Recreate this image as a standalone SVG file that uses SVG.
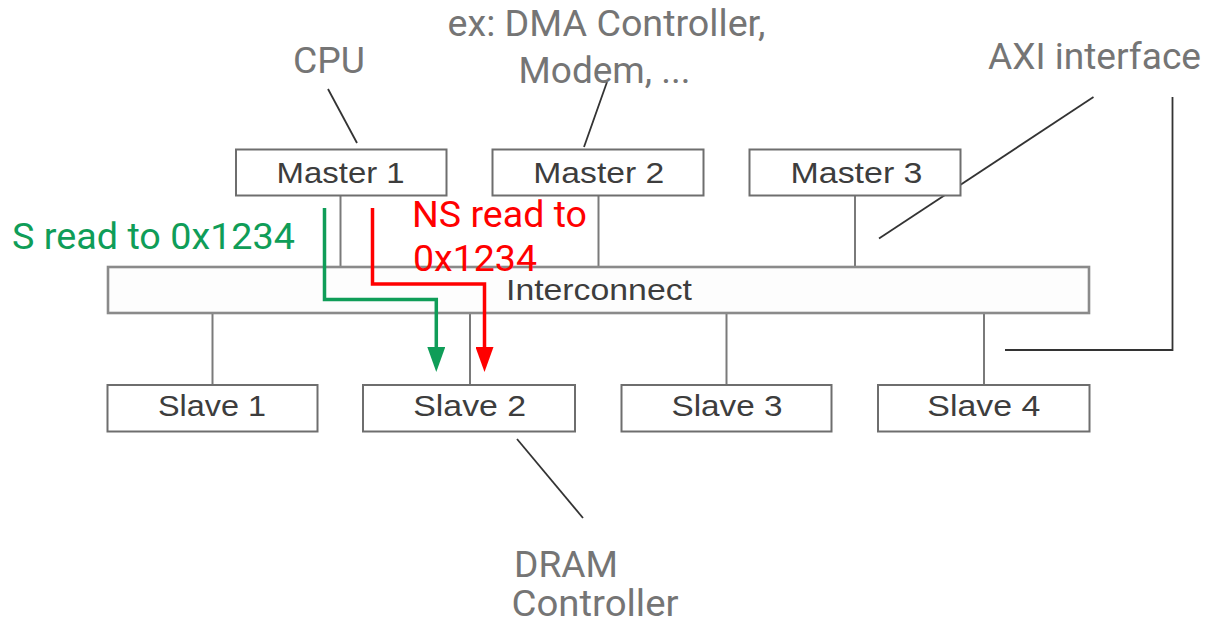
<svg xmlns="http://www.w3.org/2000/svg" width="1207" height="625" viewBox="0 0 1207 625">
<style>
.box{fill:#ffffff;stroke:#6e6e6e;stroke-width:2}
.bus{fill:#fdfdfd;stroke:#8a8a8a;stroke-width:2.6}
.conn{stroke:#7a7a7a;stroke-width:2;fill:none}
.lead{stroke:#333333;stroke-width:1.8;fill:none}
.blabel{font-family:"Liberation Sans",Arial,sans-serif;font-size:30px;fill:#3d3d3d;text-anchor:middle}
.note{font-family:Roboto,"Liberation Sans",sans-serif;font-size:36px;fill:#757575}
.green{font-family:Roboto,"Liberation Sans",sans-serif;font-size:36px;fill:#0f9d58}
.red{font-family:Roboto,"Liberation Sans",sans-serif;font-size:36px;fill:#ff0000}
</style>
<defs>
<marker id="ag" viewBox="0 0 25 18" refX="13" refY="9" markerWidth="25" markerHeight="18" markerUnits="userSpaceOnUse" orient="auto"><path d="M0,0 L25,9 L0,18 z" fill="#0f9d58"/></marker>
<marker id="ar" viewBox="0 0 25 18" refX="13" refY="9" markerWidth="25" markerHeight="18" markerUnits="userSpaceOnUse" orient="auto"><path d="M0,0 L25,9 L0,18 z" fill="#ff0000"/></marker>
</defs>
<rect width="1207" height="625" fill="#ffffff"/>
<g id="connectors">
<line class="conn" x1="340.5" y1="196" x2="340.5" y2="267"/>
<line class="conn" x1="598.5" y1="196" x2="598.5" y2="267"/>
<line class="conn" x1="855" y1="196" x2="855" y2="267"/>
<line class="conn" x1="212.5" y1="313" x2="212.5" y2="385"/>
<line class="conn" x1="470" y1="313" x2="470" y2="385"/>
<line class="conn" x1="726.5" y1="313" x2="726.5" y2="385"/>
<line class="conn" x1="984" y1="313" x2="984" y2="385"/>
</g>
<g id="leaders">
<line class="lead" x1="328" y1="89" x2="357" y2="143"/>
<line class="lead" x1="607" y1="82" x2="584" y2="147"/>
<line class="lead" x1="1093.5" y1="97" x2="879" y2="238.5"/>
<polyline class="lead" points="1005,350 1172.5,350 1172.5,97"/>
<line class="lead" x1="517" y1="439" x2="583" y2="518"/>
</g>
<g id="master1"><rect class="box" x="236" y="149.5" width="210.5" height="46"/><text class="blabel" x="340.6" y="183.3" textLength="128" lengthAdjust="spacingAndGlyphs">Master 1</text></g>
<g id="master2"><rect class="box" x="492.5" y="149.5" width="211" height="46"/><text class="blabel" x="598.8" y="183.3" textLength="131" lengthAdjust="spacingAndGlyphs">Master 2</text></g>
<g id="master3"><rect class="box" x="749.5" y="149.5" width="211" height="46"/><text class="blabel" x="856.5" y="183.3" textLength="132" lengthAdjust="spacingAndGlyphs">Master 3</text></g>
<g id="interconnect"><rect class="bus" x="108" y="267" width="981" height="46"/><text class="blabel" x="599" y="300" textLength="186" lengthAdjust="spacingAndGlyphs">Interconnect</text></g>
<g id="slave1"><rect class="box" x="107.5" y="385" width="210" height="46.5"/><text class="blabel" x="212" y="416" textLength="108" lengthAdjust="spacingAndGlyphs">Slave 1</text></g>
<g id="slave2"><rect class="box" x="363" y="385" width="212" height="46.5"/><text class="blabel" x="469.7" y="416" textLength="113" lengthAdjust="spacingAndGlyphs">Slave 2</text></g>
<g id="slave3"><rect class="box" x="621.5" y="385" width="210" height="46.5"/><text class="blabel" x="727" y="416" textLength="111" lengthAdjust="spacingAndGlyphs">Slave 3</text></g>
<g id="slave4"><rect class="box" x="878" y="385" width="211.5" height="46.5"/><text class="blabel" x="983.8" y="416" textLength="113" lengthAdjust="spacingAndGlyphs">Slave 4</text></g>
<g id="flows">
<path d="M324.5,208 V299.5 H436.3 V360" fill="none" stroke="#0f9d58" stroke-width="3.5" marker-end="url(#ag)"/>
<path d="M372.5,208 V284 H484.5 V360" fill="none" stroke="#ff0000" stroke-width="3.5" marker-end="url(#ar)"/>
</g>
<g id="labels">
<text class="note" x="293" y="73.3" textLength="72" lengthAdjust="spacingAndGlyphs">CPU</text>
<text class="note" x="447.5" y="36" textLength="318" lengthAdjust="spacingAndGlyphs">ex: DMA Controller,</text>
<text class="note" x="518.5" y="83.3" textLength="172" lengthAdjust="spacingAndGlyphs">Modem, ...</text>
<text class="note" x="988" y="69.3" textLength="213" lengthAdjust="spacingAndGlyphs">AXI interface</text>
<text class="note" x="514" y="577.3" textLength="104" lengthAdjust="spacingAndGlyphs">DRAM</text>
<text class="note" x="511.5" y="616" textLength="167" lengthAdjust="spacingAndGlyphs">Controller</text>
<text class="green" x="12" y="249.3" textLength="283" lengthAdjust="spacingAndGlyphs">S read to 0x1234</text>
<text class="red" x="412" y="227.3" textLength="175" lengthAdjust="spacingAndGlyphs">NS read to</text>
<text class="red" x="413" y="271" textLength="124" lengthAdjust="spacingAndGlyphs">0x1234</text>
</g>
</svg>
